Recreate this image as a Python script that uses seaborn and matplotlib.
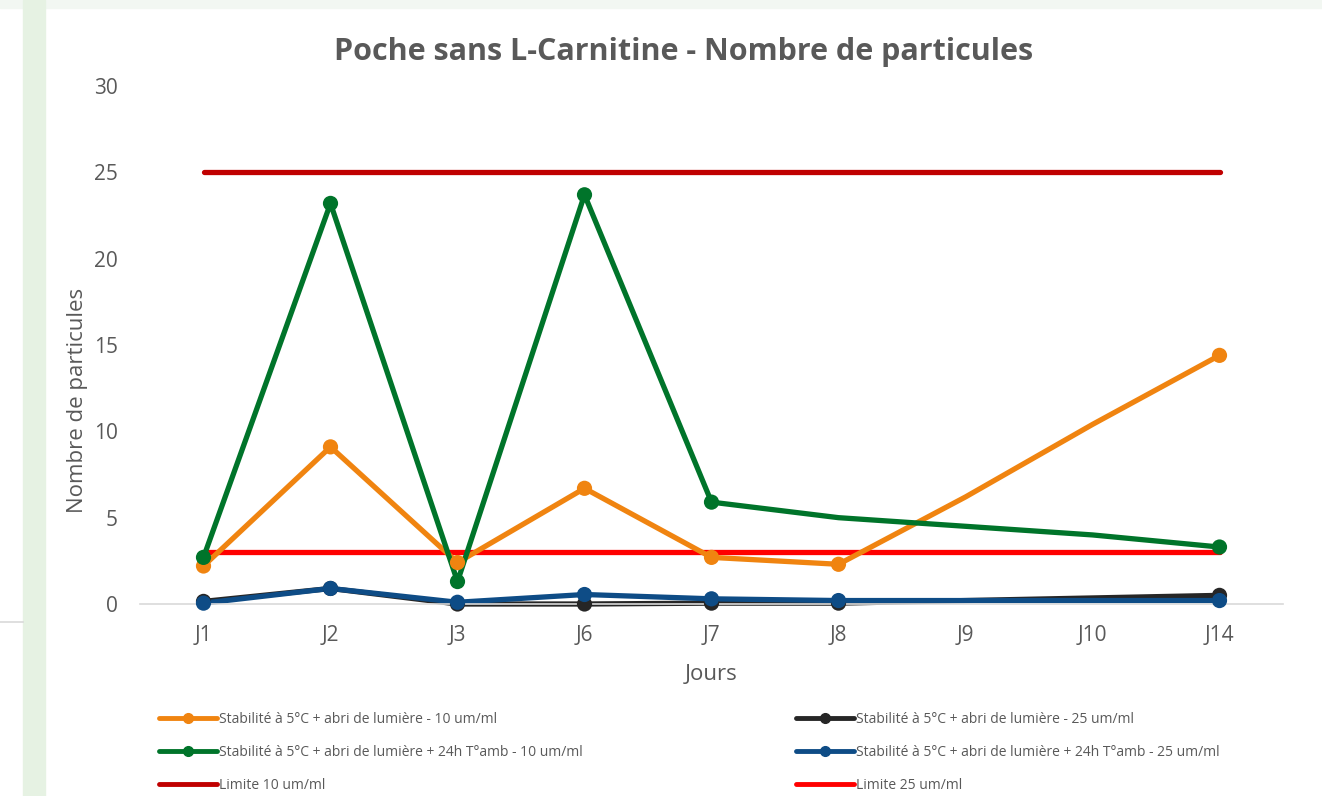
#!/usr/bin/env python3
"""Poche sans L-Carnitine - Nombre de particules (line chart)."""

import pandas as pd
import matplotlib.pyplot as plt
from matplotlib.lines import Line2D
from matplotlib.patches import Rectangle
import seaborn as sns

# Data
jours = ["J1", "J2", "J3", "J6", "J7", "J8", "J9", "J10", "J14"]

froid_10 = [2.2, 9.1, 2.4, 6.7, 2.7, 2.3, 6.2, 10.4, 14.4]
froid_25 = [0.15, 0.9, 0.0, 0.0, 0.05, 0.05, 0.2, 0.35, 0.5]
amb_10 = [2.7, 23.2, 1.3, 23.7, 5.9, 5.0, 4.5, 4.0, 3.3]
amb_25 = [0.05, 0.9, 0.1, 0.55, 0.3, 0.2, 0.2, 0.2, 0.2]
limite_10 = [25] * len(jours)
limite_25 = [3] * len(jours)

# days that carry a marker in the original
froid_10_pts = ["J1", "J2", "J3", "J6", "J7", "J8", "J14"]
froid_25_pts = ["J1", "J2", "J3", "J6", "J7", "J8", "J14"]
amb_10_pts = ["J1", "J2", "J3", "J6", "J7", "J14"]
amb_25_pts = ["J1", "J2", "J3", "J6", "J7", "J8", "J14"]

labels = {
    "froid_10": "Stabilité à 5°C + abri de lumière - 10 um/ml",
    "froid_25": "Stabilité à 5°C + abri de lumière - 25 um/ml",
    "amb_10": "Stabilité à 5°C + abri de lumière + 24h T°amb - 10 um/ml",
    "amb_25": "Stabilité à 5°C + abri de lumière + 24h T°amb - 25 um/ml",
    "lim_10": "Limite 10 um/ml",
    "lim_25": "Limite 25 um/ml",
}
colors = {
    "froid_10": "#F08410",
    "froid_25": "#262626",
    "amb_10": "#00742A",
    "amb_25": "#0E4C86",
    "lim_10": "#C00000",
    "lim_25": "#FF0000",
}

GREY = "#595959"

plt.rcParams["font.family"] = ["Open Sans", "DejaVu Sans"]


def main():
    fig = plt.figure(figsize=(13.22, 7.96), dpi=100)
    fig.patch.set_facecolor("white")
    # page decoration around the chart
    fig.patches.append(Rectangle((0, 1 - 8 / 796), 1, 8 / 796, transform=fig.transFigure,
                                 color="#F2F7F2", zorder=0))
    fig.patches.append(Rectangle((23 / 1322, 0), 22 / 1322, 1, transform=fig.transFigure,
                                 color="#E6F2E3", zorder=0))
    fig.add_artist(Line2D([0, 23 / 1322], [1 - 622 / 796] * 2, transform=fig.transFigure,
                          color="#D9D9D9", lw=1.2))

    ax = fig.add_axes([140 / 1322, 192 / 796, 1143 / 1322, 518 / 796])
    ax.set_facecolor("white")

    series = [
        ("lim_10", limite_10, None),
        ("lim_25", limite_25, None),
        ("froid_25", froid_25, froid_25_pts),
        ("froid_10", froid_10, froid_10_pts),
        ("amb_10", amb_10, amb_10_pts),
        ("amb_25", amb_25, amb_25_pts),
    ]
    for key, vals, pts in series:
        df = pd.DataFrame({"jour": jours, "val": vals})
        sns.lineplot(data=df, x="jour", y="val", ax=ax, color=colors[key], lw=3.8,
                     sort=False, solid_capstyle="round", clip_on=False)
        if pts:
            sub = df[df["jour"].isin(pts)]
            sns.scatterplot(data=sub, x="jour", y="val", ax=ax, color=colors[key],
                            s=120, edgecolor="none", clip_on=False, zorder=3)

    ax.set_xlim(-0.5, len(jours) - 0.5)
    ax.set_ylim(0, 30)
    ax.set_yticks(range(0, 31, 5))
    ax.tick_params(length=0, labelsize=15, colors=GREY)
    ax.tick_params(axis="x", pad=15)
    ax.tick_params(axis="y", pad=16)
    for s in ["top", "right", "left"]:
        ax.spines[s].set_visible(False)
    ax.spines["bottom"].set_color("#D9D9D9")
    ax.spines["bottom"].set_linewidth(1.2)
    ax.set_xlabel("Jours", fontsize=16, color=GREY)
    ax.xaxis.set_label_coords(0.5, -(664 - 604) / 518)
    ax.set_ylabel("Nombre de particules", fontsize=16, color=GREY)
    ax.yaxis.set_label_coords(-52 / 1143, (604 - 400) / 518)
    fig.text(684 / 1322, 1 - 52 / 796, "Poche sans L-Carnitine - Nombre de particules",
             ha="center", va="center", fontsize=22, fontweight="bold", color=GREY)

    def handle(key, marker):
        return Line2D([], [], color=colors[key], lw=3.5, solid_capstyle="round",
                      marker="o" if marker else None, markersize=7)

    left = [("froid_10", True), ("amb_10", True), ("lim_10", False)]
    right = [("froid_25", True), ("amb_25", True), ("lim_25", False)]
    for items, x0 in [(left, 152 / 1322), (right, 789 / 1322)]:
        fig.legend([handle(k, m) for k, m in items], [labels[k] for k, _ in items],
                   loc="upper left", bbox_to_anchor=(x0, 1 - 705 / 796), frameon=False,
                   fontsize=10, labelcolor=GREY, handlelength=4.2, handletextpad=0.1,
                   labelspacing=1.3, borderpad=0)

    fig.savefig("out.png", dpi=100)


if __name__ == "__main__":
    main()
